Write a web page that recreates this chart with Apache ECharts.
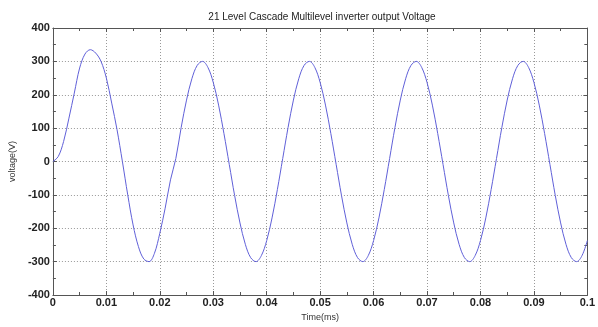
<!DOCTYPE html>
<html>
<head>
<meta charset="utf-8">
<script src="https://cdn.jsdelivr.net/npm/echarts@6/dist/echarts.min.js"></script>
<style>
  html, body { margin: 0; padding: 0; background: #fff; }
  #chart { width: 598px; height: 327px; }
</style>
</head>
<body>
<div id="chart"></div>
<script>
  // tiempo en ms (paso de 0.001) y tension
  const tiempo = [];
  for (let i = 0; i <= 100; i++) tiempo.push(+(i * 0.001).toFixed(3));

  // transitorio inicial (0 .. 0.022)
  const transitorio = [0, 15, 60, 130, 205, 280, 322, 335, 325, 300, 250, 175, 95, 0,
    -100, -190, -255, -292, -300, -275, -215, -140, -55];

  // regimen (0.023 .. 0.100), un ciclo de 20 muestras repetido
  const regimen = [
    9, 102, 184, 248, 288, 300, 282, 237, 169, 84,
    -9, -102, -184, -248, -288, -300, -282, -237, -169, -84,
    9, 102, 184, 248, 288, 300, 282, 237, 169, 84,
    -9, -102, -184, -248, -288, -300, -282, -237, -169, -84,
    9, 102, 184, 248, 288, 300, 282, 237, 169, 84,
    -9, -102, -184, -248, -288, -300, -282, -237, -169, -84,
    9, 102, 184, 248, 288, 300, 282, 237, 169, 84,
    -9, -102, -184, -248, -288, -300, -282, -237
  ];

  const tension = transitorio.concat(regimen);

  const fuenteEje = 'Liberation Sans Narrow, Arial Narrow, Liberation Sans, sans-serif';

  const chart = echarts.init(document.getElementById('chart'));

  const ejeX = {
    type: 'value',
    min: 0,
    max: 0.1,
    interval: 0.01,
    axisLine: { show: true, onZero: false, lineStyle: { color: '#555', width: 1 } },
    axisTick: { show: true, inside: true, length: 4, lineStyle: { color: '#555' } },
    minorTick: { show: true, splitNumber: 2, length: 3, lineStyle: { color: '#555' } },
    splitLine: { show: true, lineStyle: { color: '#999', type: [1, 2], width: 1 } }
  };

  const ejeY = {
    type: 'value',
    min: -400,
    max: 400,
    interval: 100,
    axisLine: { show: true, onZero: false, lineStyle: { color: '#555', width: 1 } },
    axisTick: { show: true, inside: true, length: 4, lineStyle: { color: '#555' } },
    minorTick: { show: true, splitNumber: 2, length: 3, lineStyle: { color: '#555' } },
    splitLine: { show: true, lineStyle: { color: '#999', type: [1, 2], width: 1 } }
  };

  const option = {
    backgroundColor: '#fff',
    animation: false,
    title: {
      text: '21 Level Cascade Multilevel inverter output Voltage',
      left: 317,
      textAlign: 'center',
      top: 7,
      textStyle: { fontFamily: 'Liberation Sans, Arial, sans-serif', fontSize: 10, fontWeight: 'normal', color: '#222' }
    },
    grid: { left: 41, right: 5, top: 28, bottom: 22 },
    xAxis: [
      Object.assign({}, ejeX, {
        position: 'bottom',
        name: 'Time(ms)',
        nameLocation: 'middle',
        nameGap: 18,
        nameTextStyle: { fontFamily: 'Liberation Sans, Arial, sans-serif', fontSize: 9, color: '#333' },
        axisLabel: {
          margin: 2,
          fontFamily: fuenteEje, fontSize: 11, fontWeight: 'bold', color: '#222',
          formatter: v => String(+v.toFixed(2))
        }
      }),
      Object.assign({}, ejeX, {
        position: 'top',
        axisLabel: { show: false },
        splitLine: { show: false }
      })
    ],
    yAxis: [
      Object.assign({}, ejeY, {
        position: 'left',
        name: 'voltage(V)',
        nameLocation: 'middle',
        nameGap: 28,
        nameTextStyle: { fontFamily: 'Liberation Sans, Arial, sans-serif', fontSize: 9, color: '#333' },
        axisLabel: {
          margin: 3,
          fontFamily: fuenteEje, fontSize: 11, fontWeight: 'bold', color: '#222'
        }
      }),
      Object.assign({}, ejeY, {
        position: 'right',
        axisLabel: { show: false },
        splitLine: { show: false }
      })
    ],
    series: [
      {
        name: 'voltage',
        type: 'line',
        data: tiempo.map((t, i) => [t, tension[i]]),
        smooth: 0.35,
        showSymbol: false,
        lineStyle: { color: '#6060d8', width: 1 }
      }
    ]
  };

  chart.setOption(option);
</script>
</body>
</html>
